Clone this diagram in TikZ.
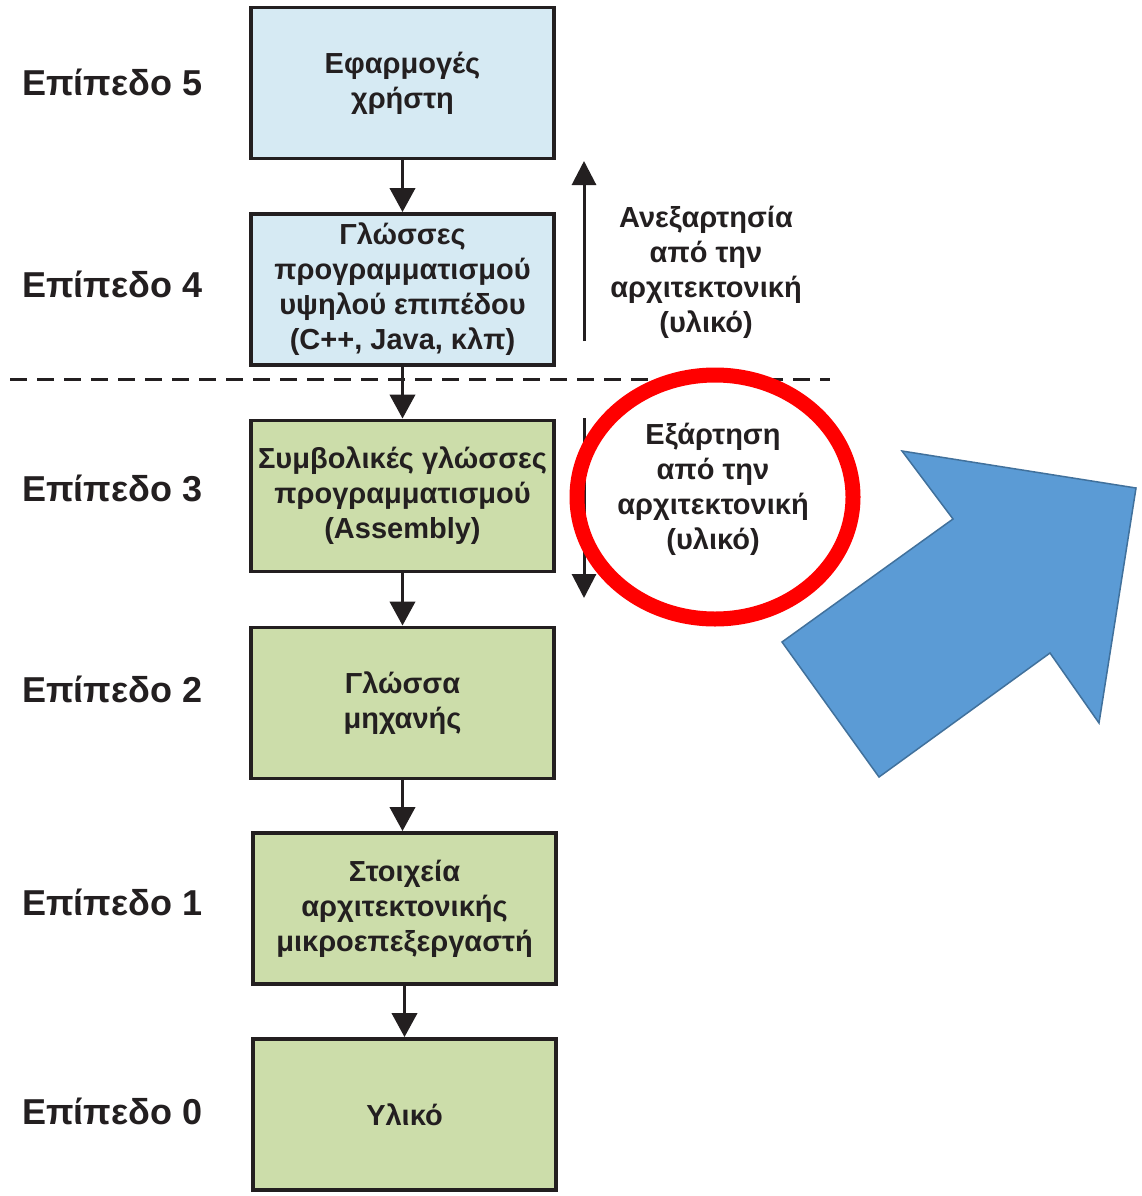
\documentclass[tikz,border=0pt]{standalone}
\usepackage{fontspec}
\setmainfont{Liberation Sans}
\usetikzlibrary{arrows.meta}
\definecolor{txt}{RGB}{35,31,32}
\definecolor{lvlblue}{RGB}{214,234,243}
\definecolor{lvlgreen}{RGB}{204,221,170}
\definecolor{bigblue}{RGB}{91,155,213}
\definecolor{bigblueedge}{RGB}{65,113,156}
\begin{document}
\begin{tikzpicture}[x=1pt,y=-1pt,
  levelbox/.style={draw=txt,line width=3.8pt,minimum width=303pt,minimum height=151pt,
    inner sep=0pt,align=center,text=txt,font=\fontsize{29}{35}\selectfont\bfseries},
  bluebox/.style={levelbox,fill=lvlblue},
  greenbox/.style={levelbox,fill=lvlgreen},
  lvllabel/.style={anchor=west,text=txt,inner sep=0pt,font=\fontsize{36}{40}\selectfont\bfseries},
  sidetext/.style={align=center,text=txt,inner sep=0pt,font=\fontsize{29}{35}\selectfont\bfseries},
  flow/.style={draw=txt,line width=3.8pt,-{Triangle[length=24pt,width=25pt]}},
  sidearrow/.style={draw=txt,line width=3pt,-{Triangle[length=24pt,width=24pt]}}]
\useasboundingbox (0,0) rectangle (1141,1196);
\fill[white] (0,0) rectangle (1141,1196);

% the six levels
\node[bluebox]  (b5) at (402.5,83)    {Εφαρμογές\\χρήστη};
\node[bluebox]  (b4) at (402.5,289.5) {Γλώσσες\\προγραμματισμού\\υψηλού επιπέδου\\(C++, Java, κλπ)};
\node[greenbox] (b3) at (402.5,496)   {Συμβολικές γλώσσες\\προγραμματισμού\\(Assembly)};
\node[greenbox] (b2) at (402.5,703)   {Γλώσσα\\μηχανής};
\node[greenbox] (b1) at (404.5,908.5) {Στοιχεία\\αρχιτεκτονικής\\μικροεπεξεργαστή};
\node[greenbox] (b0) at (404.5,1114.5){Υλικό};

% level names
\node[lvllabel] (l5) at (22,82)   {Επίπεδο 5};
\node[lvllabel] (l4) at (22,284)  {Επίπεδο 4};
\node[lvllabel] (l3) at (22,488)  {Επίπεδο 3};
\node[lvllabel] (l2) at (22,689)  {Επίπεδο 2};
\node[lvllabel] (l1) at (22,902)  {Επίπεδο 1};
\node[lvllabel] (l0) at (22,1111) {Επίπεδο 0};

% downward flow between levels
\draw[flow] (b5.south) -- (b4.north);
\draw[flow] (b4.south) -- (b3.north);
\draw[flow] (b3.south) -- (b2.north);
\draw[flow] (b2.south) -- (b2.south |- b1.north);
\draw[flow] (b1.south) -- (b0.north);

% boundary between independent and dependent levels
\coordinate (dl) at (10,379);
\coordinate (dr) at (830,379);
\draw[txt,line width=3pt,dash pattern=on 17pt off 10pt] (dl) -- (dr);

% side arrows
\coordinate (up0) at (584,341);
\coordinate (up1) at (584,161);
\coordinate (dn0) at (584,418);
\coordinate (dn1) at (584,598);
\draw[sidearrow] (up0) -- (up1);
\draw[sidearrow] (dn0) -- (dn1);

\node[sidetext] (indep) at (706,272) {Ανεξαρτησία\\από την\\αρχιτεκτονική\\(υλικό)};
\node[sidetext] (dep) at (713,489) {Εξάρτηση\\από την\\αρχιτεκτονική\\(υλικό)};

% highlight ring
\draw[red,line width=15pt] (715,497) ellipse[x radius=138pt,y radius=122pt];

% big pointer arrow
\filldraw[fill=bigblue,draw=bigblueedge,line width=1.5pt,line join=miter]
  (902,451) -- (1136,488) -- (1099,723) -- (1050,653) -- (879,777) -- (782,642) -- (953,519) -- cycle;
\end{tikzpicture}
\end{document}
